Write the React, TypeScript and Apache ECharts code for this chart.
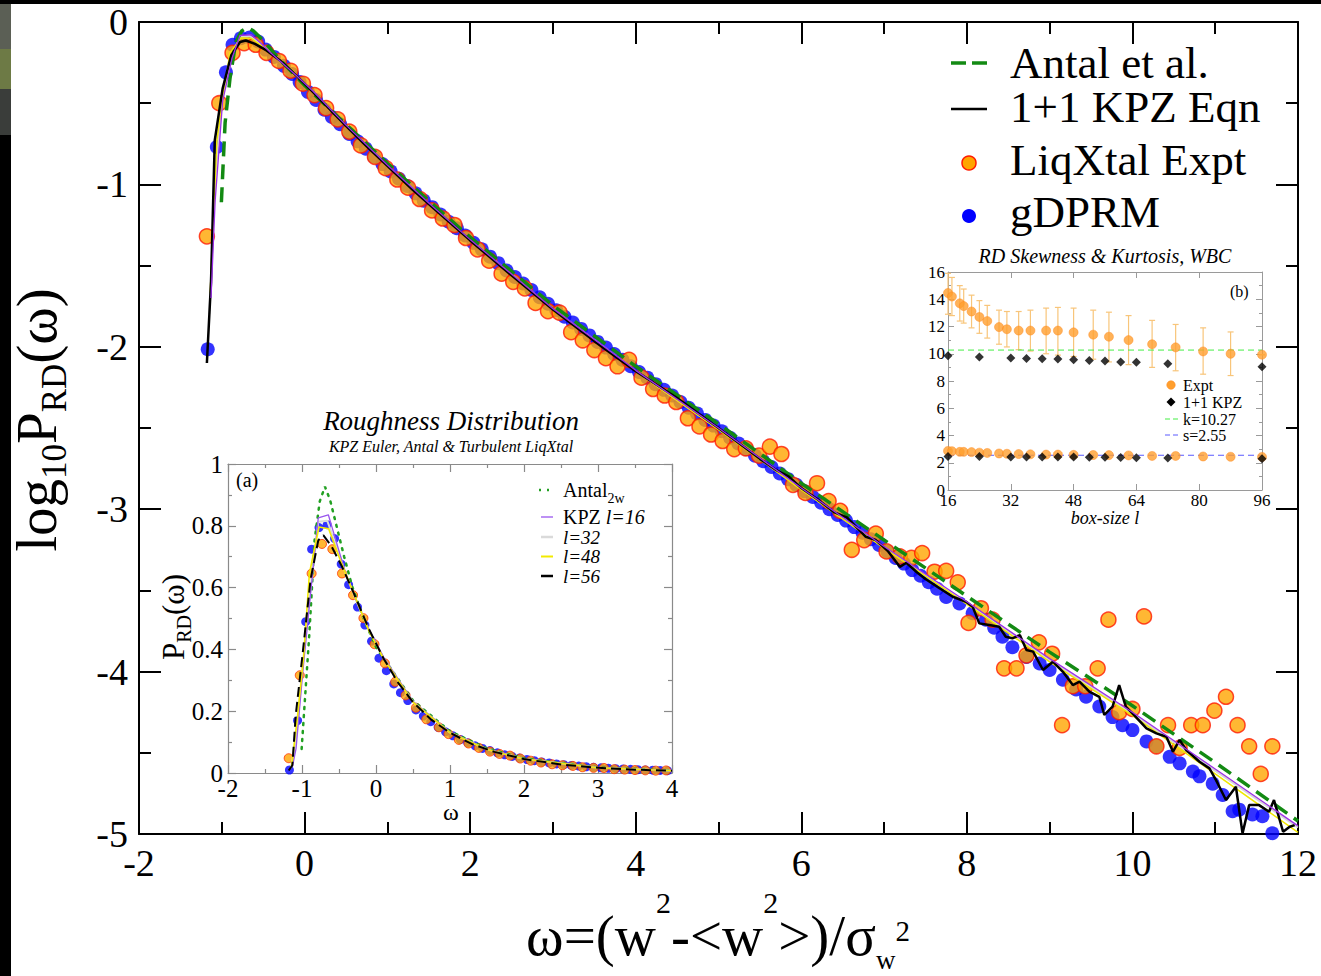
import React, { useEffect, useRef } from "react";
import * as echarts from "echarts";

const SERIF = "Liberation Serif, DejaVu Serif, Times New Roman, serif";

// ---------- main plot: log10 P_RD(omega) ----------
const exptLog: number[][] = [
  [-1.18, -1.32], [-1.03, -0.5], [-0.87, -0.19], [-0.73, -0.13], [-0.59, -0.14], [-0.46, -0.19],
  [-0.31, -0.24], [-0.17, -0.3], [-0.02, -0.38], [0.12, -0.45], [0.26, -0.53], [0.4, -0.6],
  [0.54, -0.675], [0.68, -0.76], [0.85, -0.83], [0.98, -0.9], [1.12, -0.97], [1.25, -1.02],
  [1.39, -1.09], [1.54, -1.16], [1.67, -1.21], [1.81, -1.25], [1.95, -1.33], [2.09, -1.4],
  [2.23, -1.47], [2.38, -1.55], [2.52, -1.6], [2.66, -1.64], [2.79, -1.73], [2.94, -1.78],
  [3.08, -1.79], [3.22, -1.91], [3.36, -1.96], [3.5, -2.02], [3.64, -2.07], [3.78, -2.12],
  [3.92, -2.08], [4.07, -2.19], [4.21, -2.26], [4.35, -2.3], [4.49, -2.34], [4.63, -2.44],
  [4.77, -2.49], [4.91, -2.54], [5.05, -2.58], [5.19, -2.63], [5.33, -2.625], [5.49, -2.67],
  [5.62, -2.615], [5.76, -2.66], [5.9, -2.85], [6.05, -2.9], [6.19, -2.84], [6.33, -2.95],
  [6.47, -3.01], [6.61, -3.25], [6.76, -3.19], [6.9, -3.15], [7.03, -3.26], [7.19, -3.29],
  [7.33, -3.3], [7.46, -3.27], [7.61, -3.385], [7.75, -3.38], [7.89, -3.45], [8.02, -3.7],
  [8.17, -3.61], [8.31, -3.68], [8.45, -3.98], [8.6, -3.98], [8.72, -3.9], [8.87, -3.82],
  [9.03, -3.89], [9.15, -4.33], [9.28, -4.09], [9.43, -4.09], [9.58, -3.98], [9.71, -3.68],
  [9.84, -4.25], [10.0, -4.23], [10.14, -3.66], [10.29, -4.46], [10.43, -4.33], [10.57, -4.47],
  [10.71, -4.33], [10.85, -4.33], [10.99, -4.24], [11.13, -4.155], [11.27, -4.33], [11.41, -4.46],
  [11.55, -4.63], [11.69, -4.46],
];

const gdprmLog: number[][] = [
  [-1.17, -2.015], [-1.06, -0.77], [-0.95, -0.31], [-0.87, -0.14], [-0.77, -0.1], [-0.66, -0.095],
  [-0.56, -0.12], [-0.47, -0.17], [-0.37, -0.215], [-0.25, -0.27], [-0.15, -0.32], [-0.06, -0.37],
  [0.04, -0.43], [0.14, -0.48], [0.24, -0.54], [0.33, -0.585], [0.43, -0.63], [0.54, -0.69],
  [0.64, -0.735], [0.74, -0.78], [0.84, -0.83], [0.94, -0.875], [1.04, -0.92], [1.14, -0.965],
  [1.24, -1.01], [1.34, -1.055], [1.44, -1.1], [1.54, -1.14], [1.64, -1.185], [1.74, -1.23],
  [1.84, -1.27], [1.94, -1.315], [2.04, -1.36], [2.14, -1.4], [2.24, -1.445], [2.34, -1.485],
  [2.44, -1.53], [2.54, -1.57], [2.64, -1.61], [2.74, -1.65], [2.84, -1.695], [2.94, -1.735],
  [3.04, -1.775], [3.14, -1.815], [3.24, -1.85], [3.34, -1.89], [3.44, -1.93], [3.54, -1.97],
  [3.64, -2.005], [3.74, -2.045], [3.84, -2.08], [3.94, -2.12], [4.04, -2.155], [4.14, -2.19],
  [4.24, -2.23], [4.34, -2.265], [4.44, -2.3], [4.54, -2.34], [4.64, -2.375], [4.74, -2.41],
  [4.84, -2.45], [4.94, -2.485], [5.04, -2.52], [5.14, -2.56], [5.24, -2.595], [5.34, -2.63],
  [5.44, -2.67], [5.54, -2.705], [5.64, -2.74], [5.74, -2.78], [5.84, -2.815], [5.94, -2.85],
  [6.04, -2.89], [6.14, -2.925], [6.24, -2.96], [6.34, -3.0], [6.44, -3.035], [6.54, -3.07],
  [6.64, -3.11], [6.74, -3.145], [6.84, -3.185], [6.94, -3.22], [7.04, -3.26], [7.14, -3.3],
  [7.24, -3.335], [7.34, -3.375], [7.44, -3.41], [7.54, -3.45], [7.64, -3.49], [7.75, -3.54],
  [7.91, -3.58], [8.07, -3.64], [8.23, -3.68], [8.33, -3.73], [8.43, -3.785], [8.55, -3.85],
  [8.72, -3.91], [8.88, -3.95], [9.0, -3.99], [9.16, -4.05], [9.32, -4.11], [9.44, -4.155],
  [9.6, -4.215], [9.76, -4.28], [9.88, -4.33], [10.0, -4.36], [10.17, -4.43], [10.29, -4.46],
  [10.45, -4.525], [10.57, -4.565], [10.73, -4.615], [10.81, -4.645], [10.97, -4.69], [11.09, -4.76],
  [11.21, -4.86], [11.29, -4.85], [11.45, -4.88], [11.57, -4.89], [11.69, -4.995],
];

// 1+1 KPZ Eqn (l=56)
const kpzEqnLog: number[][] = [
  [-1.18, -2.1], [-1.13, -1.6], [-1.085, -0.73], [-0.99, -0.41], [-0.885, -0.204], [-0.78, -0.123],
  [-0.71, -0.114], [-0.6, -0.135], [-0.46, -0.175], [-0.3, -0.235], [-0.1, -0.33], [0.1, -0.43],
  [0.3, -0.535], [0.5, -0.64], [0.75, -0.765], [1.0, -0.885], [1.3, -1.03], [1.6, -1.165],
  [2.0, -1.345], [2.5, -1.56], [3.0, -1.77], [3.5, -1.965], [4.0, -2.15], [4.5, -2.315],
  [5.0, -2.5], [5.5, -2.69], [5.7, -2.76], [5.85, -2.8], [6.0, -2.87], [6.2, -2.94],
  [6.4, -3.02], [6.55, -3.05], [6.78, -3.17], [6.9, -3.19], [7.05, -3.26], [7.19, -3.355],
  [7.27, -3.33], [7.4, -3.39], [7.5, -3.43], [7.67, -3.487], [7.83, -3.539], [7.99, -3.57],
  [8.07, -3.6], [8.15, -3.703], [8.27, -3.713], [8.39, -3.724], [8.47, -3.785], [8.55, -3.795],
  [8.64, -3.775], [8.72, -3.867], [8.8, -3.877], [8.92, -3.99], [9.04, -3.939], [9.16, -4.001],
  [9.28, -4.083], [9.36, -4.062], [9.48, -4.124], [9.6, -4.155], [9.66, -4.267], [9.76, -4.216],
  [9.84, -4.083], [9.92, -4.216], [10.0, -4.257], [10.17, -4.35], [10.29, -4.38], [10.41, -4.401],
  [10.49, -4.493], [10.57, -4.421], [10.65, -4.483], [10.81, -4.555], [10.93, -4.596], [11.01, -4.668],
  [11.13, -4.791], [11.25, -4.709], [11.33, -4.996], [11.41, -4.822], [11.53, -4.822], [11.65, -4.863],
  [11.71, -4.791], [11.82, -4.986], [11.9, -4.955], [11.96, -4.945],
];

const kpzL16Log: number[][] = [
  [-1.13, -1.7], [-1.08, -1.1], [-0.99, -0.488], [-0.876, -0.222], [-0.78, -0.083], [-0.644, -0.078],
  [-0.53, -0.129], [-0.41, -0.19], [-0.27, -0.252], [-0.1, -0.33], [0.1, -0.425], [0.5, -0.635],
  [1.0, -0.88], [1.5, -1.115], [2.0, -1.34], [3.0, -1.765], [4.0, -2.145], [5.0, -2.5],
  [6.0, -2.87], [7.0, -3.23], [8.0, -3.57], [9.0, -3.92], [10.0, -4.25], [11.0, -4.6], [12.0, -4.95],
];

const kpzL32Log: number[][] = [
  [-1.15, -1.8], [-1.08, -0.95], [-0.99, -0.46], [-0.88, -0.215], [-0.78, -0.09], [-0.66, -0.088],
  [-0.53, -0.135], [-0.41, -0.19], [-0.27, -0.252], [-0.1, -0.332], [0.1, -0.428], [0.5, -0.638],
  [1.0, -0.882], [1.5, -1.117], [2.0, -1.342], [3.0, -1.767], [4.0, -2.148], [5.0, -2.505],
  [6.0, -2.875], [7.0, -3.235], [8.0, -3.58], [9.0, -3.93], [10.0, -4.26], [11.0, -4.61], [12.0, -4.96],
];

const kpzL48Log: number[][] = [
  [-1.14, -1.67], [-1.06, -0.733], [-0.98, -0.43], [-0.9, -0.19], [-0.77, -0.099], [-0.64, -0.102],
  [-0.5, -0.155], [-0.35, -0.215], [-0.1, -0.335], [0.1, -0.43], [0.5, -0.64], [1.0, -0.885],
  [1.5, -1.12], [2.0, -1.345], [3.0, -1.77], [4.0, -2.15], [5.0, -2.51], [6.0, -2.88],
  [7.0, -3.24], [8.0, -3.585], [9.0, -3.94], [10.0, -4.27], [11.0, -4.63], [12.0, -4.99],
];

const antalLog: number[][] = [
  [-1.005, -1.11], [-0.96, -0.62], [-0.9, -0.344], [-0.83, -0.123], [-0.76, -0.056], [-0.69, -0.033],
  [-0.62, -0.054], [-0.53, -0.099], [-0.43, -0.155], [-0.32, -0.22], [-0.18, -0.295], [0.0, -0.39],
  [0.5, -0.63], [1.0, -0.87], [1.5, -1.1], [2.0, -1.325], [3.0, -1.745], [4.0, -2.12],
  [5.0, -2.475], [6.0, -2.84], [7.0, -3.19], [8.0, -3.535], [9.0, -3.88], [10.0, -4.21],
  [11.0, -4.56], [12.0, -4.92],
];

// ---------- inset (b): skewness & kurtosis vs box size ----------
const boxSizeExpt = [16, 17, 19, 20, 22, 24, 26, 29, 31, 34, 37, 41, 44, 48, 53, 57, 62, 68, 74, 81, 88, 96];
const kurtExpt = [14.46, 14.2, 13.7, 13.5, 13.1, 12.7, 12.4, 11.96, 11.8, 11.7, 11.7, 11.7, 11.7, 11.57, 11.4, 11.25, 11.0, 10.7, 10.47, 10.17, 10.0, 9.93];
const kurtErrHi = [15.9, 15.6, 15.0, 14.75, 14.3, 13.9, 13.55, 13.2, 13.1, 13.1, 13.2, 13.35, 13.4, 13.35, 13.2, 13.05, 12.8, 12.45, 12.15, 11.9, 11.6, 9.93];
const kurtErrLo = [12.9, 12.8, 12.4, 12.25, 11.9, 11.5, 11.15, 10.7, 10.5, 10.3, 10.2, 10.0, 9.9, 9.8, 9.6, 9.4, 9.2, 9.0, 8.75, 8.5, 8.4, 9.93];
const skewExpt = [2.87, 2.85, 2.8, 2.8, 2.78, 2.74, 2.72, 2.68, 2.66, 2.64, 2.62, 2.6, 2.6, 2.58, 2.57, 2.56, 2.54, 2.5, 2.5, 2.46, 2.44, 2.43];
const boxSizeKpz = [16, 24, 32, 36, 40, 44, 48, 52, 56, 60, 64, 72, 96];
const kurtKpz = [9.85, 9.76, 9.68, 9.66, 9.64, 9.62, 9.56, 9.5, 9.46, 9.4, 9.37, 9.26, 9.04];
const skewKpz = [2.45, 2.45, 2.43, 2.42, 2.42, 2.42, 2.42, 2.4, 2.4, 2.38, 2.37, 2.35, 2.3];
const kLevel = 10.27;
const sLevel = 2.55;

// ---------- helpers ----------
const toP = (arr: number[][]) => arr.filter((d) => d[0] <= 4.05).map((d) => [d[0], Math.pow(10, d[1])]);

type AxOpt = {
  color: string; width: number; major: number; minor: number; minorSplit: number;
  fontSize: number; margin: number; label: boolean; z: number;
};
function mkAxis(gridIndex: number, position: string, min: number, max: number, interval: number, o: AxOpt) {
  return {
    gridIndex, type: "value", position, min, max, interval, z: o.z,
    axisLine: { show: true, onZero: false, lineStyle: { color: o.color, width: o.width } },
    axisTick: { show: true, inside: true, length: o.major, lineStyle: { color: o.color, width: o.width } },
    minorTick: { show: o.minor > 0, splitNumber: o.minorSplit, length: o.minor, lineStyle: { color: o.color, width: o.width } },
    axisLabel: { show: o.label, color: "#000", fontSize: o.fontSize, fontFamily: SERIF, margin: o.margin },
    splitLine: { show: false },
    minorSplitLine: { show: false },
  };
}

const mainAx: AxOpt = { color: "#000", width: 2, major: 22, minor: 12, minorSplit: 2, fontSize: 38, margin: 10, label: true, z: 1 };
const insAAx: AxOpt = { color: "#8a8a8a", width: 1.2, major: 8, minor: 4, minorSplit: 2, fontSize: 25, margin: 4, label: true, z: 8 };
const insBAx: AxOpt = { color: "#9a9a9a", width: 1, major: 6, minor: 3, minorSplit: 2, fontSize: 17, margin: 2, label: true, z: 8 };

function txt(x: number, y: number, text: string, fontSize: number, extra: any = {}) {
  return {
    type: "text", x, y, z: 20,
    style: { text, fontSize, fontFamily: SERIF, fill: "#000", align: "left", verticalAlign: "middle", ...extra },
  };
}
function hline(x1: number, x2: number, y: number, stroke: string, lineWidth: number, lineDash?: number[]) {
  return {
    type: "line", z: 20,
    shape: { x1, y1: y, x2, y2: y },
    style: { stroke, lineWidth, lineDash: lineDash || null, lineCap: "butt" },
  };
}

function buildOption() {
  const S = (o: any) => ({ animation: false, ...o });
  const series: any[] = [
    // main plot
    S({ type: "scatter", xAxisIndex: 0, yAxisIndex: 0, data: gdprmLog, symbolSize: 14, itemStyle: { color: "#0000ff" }, z: 2 }),
    S({ type: "scatter", xAxisIndex: 0, yAxisIndex: 0, data: exptLog, symbolSize: 15, itemStyle: { color: "#ffa500", borderColor: "#ff1a00", borderWidth: 1.5 }, z: 3 }),
    S({ type: "line", xAxisIndex: 0, yAxisIndex: 0, data: kpzL32Log, showSymbol: false, symbol: "none", lineStyle: { color: "#d6d6d6", width: 2 }, z: 4 }),
    S({ type: "line", xAxisIndex: 0, yAxisIndex: 0, data: kpzL48Log, showSymbol: false, symbol: "none", lineStyle: { color: "#f0e800", width: 1.5 }, z: 4 }),
    S({ type: "line", xAxisIndex: 0, yAxisIndex: 0, data: antalLog, showSymbol: false, symbol: "none", lineStyle: { color: "#138a13", width: 3.5, type: [15, 8] }, z: 4 }),
    S({ type: "line", xAxisIndex: 0, yAxisIndex: 0, data: kpzEqnLog, showSymbol: false, symbol: "none", lineStyle: { color: "#000", width: 2.5 }, z: 4 }),
    S({ type: "line", xAxisIndex: 0, yAxisIndex: 0, data: kpzL16Log, showSymbol: false, symbol: "none", lineStyle: { color: "#9b30e8", width: 1.3 }, z: 4 }),
    // inset (a)
    S({ type: "scatter", xAxisIndex: 2, yAxisIndex: 2, data: toP(gdprmLog), symbolSize: 9, itemStyle: { color: "#0000ff" }, z: 10 }),
    S({ type: "scatter", xAxisIndex: 2, yAxisIndex: 2, data: toP(exptLog), symbolSize: 9, itemStyle: { color: "#ffa500", borderColor: "#ff3000", borderWidth: 1 }, z: 11 }),
    S({ type: "line", xAxisIndex: 2, yAxisIndex: 2, data: toP(antalLog), showSymbol: false, symbol: "none", lineStyle: { color: "#22a022", width: 2.5, type: [2, 6], cap: "round" }, z: 12 }),
    S({ type: "line", xAxisIndex: 2, yAxisIndex: 2, data: toP(kpzL32Log), showSymbol: false, symbol: "none", lineStyle: { color: "#dadada", width: 2 }, z: 12 }),
    S({ type: "line", xAxisIndex: 2, yAxisIndex: 2, data: toP(kpzL16Log), showSymbol: false, symbol: "none", lineStyle: { color: "#9955ee", width: 1.3 }, z: 12 }),
    S({ type: "line", xAxisIndex: 2, yAxisIndex: 2, data: toP(kpzL48Log), showSymbol: false, symbol: "none", lineStyle: { color: "#f2ea00", width: 1.6 }, z: 12 }),
    S({ type: "line", xAxisIndex: 2, yAxisIndex: 2, data: toP(kpzEqnLog), showSymbol: false, symbol: "none", lineStyle: { color: "#000", width: 2, type: [10, 5] }, z: 13 }),
    // inset (b)
    S({
      type: "custom", xAxisIndex: 4, yAxisIndex: 4, z: 10,
      data: boxSizeExpt.map((b, i) => [b, kurtErrLo[i], kurtErrHi[i]]),
      encode: { x: 0, y: [1, 2] },
      renderItem: (params: any, api: any) => {
        const x = api.value(0);
        const a = api.coord([x, api.value(1)]);
        const b = api.coord([x, api.value(2)]);
        const st = { stroke: "#f8c57a", lineWidth: 1.2 };
        const cap = 3;
        return {
          type: "group",
          children: [
            { type: "line", shape: { x1: a[0], y1: a[1], x2: b[0], y2: b[1] }, style: st },
            { type: "line", shape: { x1: a[0] - cap, y1: a[1], x2: a[0] + cap, y2: a[1] }, style: st },
            { type: "line", shape: { x1: b[0] - cap, y1: b[1], x2: b[0] + cap, y2: b[1] }, style: st },
          ],
        };
      },
    }),
    S({ type: "line", xAxisIndex: 4, yAxisIndex: 4, data: [[16, kLevel], [96, kLevel]], showSymbol: false, symbol: "none", lineStyle: { color: "#44ee44", width: 1, type: [6, 4] }, z: 11 }),
    S({ type: "line", xAxisIndex: 4, yAxisIndex: 4, data: [[16, sLevel], [96, sLevel]], showSymbol: false, symbol: "none", lineStyle: { color: "#5a5aff", width: 1, type: [6, 4] }, z: 11 }),
    S({ type: "scatter", xAxisIndex: 4, yAxisIndex: 4, data: boxSizeExpt.map((b, i) => [b, kurtExpt[i]]), symbolSize: 9, itemStyle: { color: "#ff9f2e", borderColor: "#ff8a20", borderWidth: 0.6 }, z: 12 }),
    S({ type: "scatter", xAxisIndex: 4, yAxisIndex: 4, data: boxSizeExpt.map((b, i) => [b, skewExpt[i]]), symbolSize: 9, itemStyle: { color: "#ff9f2e", borderColor: "#ff8a20", borderWidth: 0.6 }, z: 12 }),
    S({ type: "scatter", xAxisIndex: 4, yAxisIndex: 4, data: boxSizeKpz.map((b, i) => [b, kurtKpz[i]]), symbol: "diamond", symbolSize: 9, itemStyle: { color: "#000" }, z: 13 }),
    S({ type: "scatter", xAxisIndex: 4, yAxisIndex: 4, data: boxSizeKpz.map((b, i) => [b, skewKpz[i]]), symbol: "diamond", symbolSize: 9, itemStyle: { color: "#000" }, z: 13 }),
  ];

  const graphic: any[] = [
    // page frame strips
    { type: "rect", shape: { x: 0, y: 0, width: 1321, height: 4 }, style: { fill: "#000" }, z: 30 },
    { type: "rect", shape: { x: 0, y: 0, width: 11, height: 976 }, style: { fill: "#000" }, z: 30 },
    { type: "rect", shape: { x: 0, y: 4, width: 11, height: 45 }, style: { fill: "#5b5f55" }, z: 31 },
    { type: "rect", shape: { x: 0, y: 49, width: 11, height: 40 }, style: { fill: "#6d7a45" }, z: 31 },
    { type: "rect", shape: { x: 0, y: 89, width: 11, height: 46 }, style: { fill: "#3a3d3a" }, z: 31 },
    // main axis titles
    {
      type: "text", x: 718, y: 935, z: 20,
      style: {
        text: "{a|ω=(w}{s|2}{a|-<w}{s|2}{a|>)/σ}{b|w}{c|2}",
        align: "center", verticalAlign: "middle", fill: "#000",
        rich: {
          a: { fontSize: 57, fontFamily: SERIF, fill: "#000" },
          s: { fontSize: 30, fontFamily: SERIF, fill: "#000", padding: [0, 0, 66, 0] },
          b: { fontSize: 27, fontFamily: SERIF, fill: "#000", padding: [50, 0, 0, 0] },
          c: { fontSize: 29, fontFamily: SERIF, fill: "#000", padding: [0, 0, 8, 0] },
        },
      },
    },
    {
      type: "text", x: 36, y: 420, rotation: Math.PI / 2, z: 20,
      style: {
        text: "{a|log}{b|10}{a|P}{b|RD}{a|(ω)}",
        align: "center", verticalAlign: "middle", fill: "#000",
        rich: {
          a: { fontSize: 57, fontFamily: SERIF, fill: "#000" },
          b: { fontSize: 35, fontFamily: SERIF, fill: "#000", padding: [36, 0, 0, 0] },
        },
      },
    },
    // main legend
    hline(951, 987, 63, "#138a13", 3.5, [15, 6]),
    txt(1010, 63, "Antal et al.", 45),
    hline(951, 987, 109, "#000", 2.5),
    txt(1010, 107, "1+1 KPZ Eqn", 45),
    { type: "circle", z: 20, shape: { cx: 969, cy: 163, r: 7 }, style: { fill: "#ffa500", stroke: "#ff1a00", lineWidth: 1.5 } },
    txt(1010, 160, "LiqXtal Expt", 45),
    { type: "circle", z: 20, shape: { cx: 969, cy: 216, r: 7 }, style: { fill: "#0000ff" } },
    txt(1010, 212, "gDPRM", 45),
    // inset (a) texts
    txt(451, 421, "Roughness Distribution", 27, { align: "center", fontStyle: "italic" }),
    txt(451, 446, "KPZ Euler, Antal & Turbulent LiqXtal", 16, { align: "center", fontStyle: "italic" }),
    txt(236, 480, "(a)", 20),
    txt(451, 812, "ω", 24, { align: "center" }),
    {
      type: "text", x: 173, y: 617, rotation: Math.PI / 2, z: 20,
      style: {
        text: "{a|P}{b|RD}{a|(ω)}",
        align: "center", verticalAlign: "middle", fill: "#000",
        rich: {
          a: { fontSize: 31, fontFamily: SERIF, fill: "#000" },
          b: { fontSize: 20, fontFamily: SERIF, fill: "#000", padding: [22, 0, 0, 0] },
        },
      },
    },
    // inset (a) legend
    hline(539, 555, 490, "#22a022", 2.5, [2, 6]),
    {
      type: "text", x: 563, y: 490, z: 20,
      style: {
        text: "{a|Antal}{b|2w}", verticalAlign: "middle", align: "left", fill: "#000",
        rich: {
          a: { fontSize: 20, fontFamily: SERIF, fill: "#000" },
          b: { fontSize: 14, fontFamily: SERIF, fill: "#000", padding: [16, 0, 0, 0] },
        },
      },
    },
    hline(541, 553, 517, "#9955ee", 1.3),
    {
      type: "text", x: 563, y: 517, z: 20,
      style: {
        text: "{a|KPZ }{i|l=16}", verticalAlign: "middle", align: "left", fill: "#000",
        rich: {
          a: { fontSize: 20, fontFamily: SERIF, fill: "#000" },
          i: { fontSize: 20, fontFamily: SERIF, fill: "#000", fontStyle: "italic" },
        },
      },
    },
    hline(541, 553, 537, "#dadada", 2.5),
    txt(563, 537, "l=32", 19, { fontStyle: "italic" }),
    hline(541, 553, 556.5, "#f2ea00", 2),
    txt(563, 556.5, "l=48", 19, { fontStyle: "italic" }),
    hline(541, 553, 576, "#000", 2.5),
    txt(563, 576, "l=56", 19, { fontStyle: "italic" }),
    // inset (b) texts
    txt(1105, 256, "RD Skewness & Kurtosis, WBC", 20, { align: "center", fontStyle: "italic" }),
    txt(1105, 518, "box-size l", 18, { align: "center", fontStyle: "italic" }),
    txt(1230, 291, "(b)", 16),
    { type: "circle", z: 20, shape: { cx: 1171, cy: 385, r: 4.2 }, style: { fill: "#ff9f2e", stroke: "#ff8a20", lineWidth: 0.6 } },
    txt(1183, 385, "Expt", 16),
    { type: "polygon", z: 20, shape: { points: [[1171, 397.5], [1175.5, 402], [1171, 406.5], [1166.5, 402]] }, style: { fill: "#000" } },
    txt(1183, 402, "1+1 KPZ", 16),
    hline(1165, 1181, 419, "#44ee44", 1, [5, 3]),
    txt(1183, 419, "k=10.27", 16),
    hline(1165, 1181, 435, "#5a5aff", 1, [5, 3]),
    txt(1183, 435, "s=2.55", 16),
  ];

  return {
    animation: false,
    backgroundColor: "#ffffff",
    textStyle: { fontFamily: SERIF },
    grid: [
      { left: 139, top: 22, width: 1159, height: 812, containLabel: false, z: 0 },
      { left: 228, top: 464, width: 444, height: 309, containLabel: false, show: true, backgroundColor: "#ffffff", borderWidth: 0, z: 6 },
      { left: 948, top: 272, width: 314, height: 218, containLabel: false, show: true, backgroundColor: "#ffffff", borderWidth: 0, z: 6 },
    ],
    xAxis: [
      mkAxis(0, "bottom", -2, 12, 2, mainAx),
      mkAxis(0, "top", -2, 12, 2, { ...mainAx, label: false }),
      mkAxis(1, "bottom", -2, 4, 1, { ...insAAx, margin: 3 }),
      mkAxis(1, "top", -2, 4, 1, { ...insAAx, label: false }),
      mkAxis(2, "bottom", 16, 96, 16, { ...insBAx, minor: 0, margin: 2 }),
      mkAxis(2, "top", 16, 96, 16, { ...insBAx, minor: 0, label: false }),
    ],
    yAxis: [
      mkAxis(0, "left", -5, 0, 1, { ...mainAx, margin: 11 }),
      mkAxis(0, "right", -5, 0, 1, { ...mainAx, label: false }),
      mkAxis(1, "left", 0, 1, 0.2, { ...insAAx, margin: 5 }),
      mkAxis(1, "right", 0, 1, 0.2, { ...insAAx, label: false }),
      mkAxis(2, "left", 0, 16, 2, { ...insBAx, margin: 3 }),
      mkAxis(2, "right", 0, 16, 2, { ...insBAx, label: false }),
    ],
    series,
    graphic,
  };
}

export default function App() {
  const ref = useRef<HTMLDivElement>(null);
  useEffect(() => {
    if (!ref.current) return;
    const chart = echarts.init(ref.current, null, { renderer: "svg" });
    chart.setOption(buildOption() as any);
    return () => chart.dispose();
  }, []);
  return (
    <div
      ref={ref}
      style={{ position: "fixed", left: 0, top: 0, width: 1321, height: 976, background: "#fff" }}
    />
  );
}
